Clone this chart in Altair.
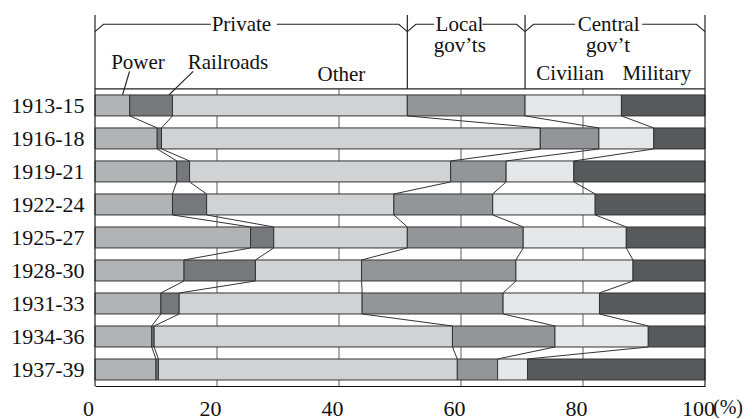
import json
import altair as alt
import pandas as pd

# ---------------- data ----------------
periods = ["1913-15", "1916-18", "1919-21", "1922-24", "1925-27",
           "1928-30", "1931-33", "1934-36", "1937-39"]
categories = ["Power", "Railroads", "Other", "Local gov'ts", "Civilian", "Military"]
power     = [5.7, 10.2, 13.4, 12.7, 25.5, 14.6, 10.8, 9.3, 10.0]
railroads = [7.0, 0.7, 2.1, 5.6, 3.8, 11.7, 3.0, 0.4, 0.4]
other     = [38.5, 62.1, 42.8, 30.7, 21.9, 17.4, 30.0, 48.9, 49.0]
local_gov = [19.3, 9.6, 9.1, 16.2, 19.0, 25.3, 23.1, 16.8, 6.6]
civilian  = [15.8, 9.0, 11.1, 16.8, 16.9, 19.2, 15.8, 15.3, 4.9]
military  = [13.7, 8.4, 21.5, 18.0, 12.9, 11.8, 17.3, 9.3, 29.1]
colors = ["#b2b3b5", "#77787b", "#d1d2d4", "#939598", "#e6e7e8", "#58595b"]
x_ticks = [0, 20, 40, 60, 80, 100]
grid_vals = [20, 40, 60, 80]

series = [power, railroads, other, local_gov, civilian, military]

# ---------------- derived tables ----------------
HALF = 0.318          # half bar height in row units
Y_TOP = -2.74         # top of header area in row units
Y_BOT = 8.5

cum = []
for i in range(len(periods)):
    c, row = 0.0, []
    for s in series:
        c += s[i]
        row.append(round(c, 2))
    cum.append(row)

bars = []
for i, p in enumerate(periods):
    start = 0.0
    for k, cat in enumerate(categories):
        end = cum[i][k] if k < len(categories) - 1 else 100.0
        bars.append(dict(period=p, cat=cat, x=start, x2=end, y=i - HALF, y2=i + HALF))
        start = end
bars = pd.DataFrame(bars)

conn = []
for k in range(len(categories) - 1):
    for i in range(len(periods) - 1):
        conn.append(dict(x=cum[i][k], x2=cum[i + 1][k], y=i + HALF, y2=i + 1 - HALF))
conn = pd.DataFrame(conn)

priv_end = cum[0][2]
local_end = cum[0][3]
frame = pd.DataFrame([
    dict(x=0, x2=0, y=Y_TOP, y2=Y_BOT),
    dict(x=100, x2=100, y=Y_TOP, y2=Y_BOT),
    dict(x=0, x2=100, y=-0.5, y2=-0.5),
    dict(x=priv_end, x2=priv_end, y=Y_TOP, y2=-0.5),
    dict(x=local_end, x2=local_end, y=Y_TOP, y2=-0.5),
    # leader lines
    dict(x=5.66, x2=4.51, y=-1.03, y2=-HALF),
    dict(x=16.1, x2=12.13, y=-1.03, y2=-HALF),
])
grid = pd.DataFrame([dict(x=g, x2=g, y=-0.5, y2=Y_BOT) for g in grid_vals])

YD, YH, D = -2.236, -2.46, 1.4
br_pts = []
def seg(name, pts):
    for j, (xx, yy) in enumerate(pts):
        br_pts.append(dict(seg=name, o=j, x=xx, y=yy))
seg("a", [(0, YD), (D, YH), (19.0, YH)])
seg("b", [(29.8, YH), (priv_end - D, YH), (priv_end, YD)])
seg("c", [(priv_end, YD), (priv_end + D, YH), (55.6, YH)])
seg("d", [(63.5, YH), (local_end - D, YH), (local_end, YD)])
seg("e", [(local_end, YD), (local_end + D, YH), (78.7, YH)])
seg("f", [(89.7, YH), (100 - D, YH), (100, YD)])
brackets = pd.DataFrame(br_pts)

labels = pd.DataFrame([
    dict(t="Private", x=24.0, y=-2.258),
    dict(t="Local", x=59.75, y=-2.258),
    dict(t="gov\u2019ts", x=59.8, y=-1.621),
    dict(t="Central", x=84.2, y=-2.258),
    dict(t="gov\u2019t", x=84.1, y=-1.621),
    dict(t="Power", x=7.05, y=-1.106),
    dict(t="Railroads", x=21.8, y=-1.106),
    dict(t="Other", x=40.4, y=-0.742),
    dict(t="Civilian", x=77.9, y=-0.773),
    dict(t="Military", x=92.1, y=-0.773),
])
pct = pd.DataFrame([dict(t="(%)", x=100, y=9.36)])

FONT = "Liberation Serif"
xs = alt.Scale(domain=[0, 100], nice=False, zero=False)
ys = alt.Scale(domain=[Y_TOP, Y_BOT], reverse=True, nice=False, zero=False)
label_expr = json.dumps(periods) + "[datum.value]"

x_axis = alt.Axis(
    values=x_ticks, grid=False, ticks=False, domain=True, domainColor="#111111",
    domainWidth=1.2, labelFontSize=22, labelFont=FONT, labelColor="#111111",
    labelOffset=-7, labelPadding=12, labelFlush=False, labelOverlap=False, title=None)
y_axis = alt.Axis(
    values=list(range(len(periods))), labelExpr=label_expr, grid=False,
    ticks=False, domain=False, labelFontSize=22, labelFont=FONT,
    labelColor="#111111", labelPadding=11, labelFlush=False,
    labelOverlap=False, title=None)

X = alt.X("x:Q", scale=xs, axis=x_axis)
Y = alt.Y("y:Q", scale=ys, axis=y_axis)

bar_layer = alt.Chart(bars).mark_bar(stroke="#333333", strokeWidth=1).encode(
    x=X, x2="x2:Q", y=Y, y2="y2:Q",
    color=alt.Color("cat:N", scale=alt.Scale(domain=categories, range=colors), legend=None),
)

def rules(df, color, width):
    return alt.Chart(df).mark_rule(color=color, strokeWidth=width).encode(
        x=X, x2="x2:Q", y=Y, y2="y2:Q")

grid_layer = rules(grid, "#777777", 1.2)
conn_layer = rules(conn, "#333333", 1)
frame_layer = rules(frame, "#222222", 1.2)

br_layer = alt.Chart(brackets).mark_line(color="#222222", strokeWidth=1.1).encode(
    x=X, y=Y, detail="seg:N", order="o:Q")

text_layer = alt.Chart(labels).mark_text(
    font=FONT, fontSize=21, color="#111111", align="center", baseline="alphabetic"
).encode(x=X, y=Y, text="t:N")

pct_layer = alt.Chart(pct).mark_text(
    font=FONT, fontSize=20, color="#111111", align="left", baseline="alphabetic", dx=8
).encode(x=X, y=Y, text="t:N")

chart = alt.layer(
    grid_layer, bar_layer, conn_layer, frame_layer, br_layer, text_layer, pct_layer
).properties(
    width=610, height=371,
    autosize=alt.AutoSizeParams(type="none"),
    padding={"left": 87, "top": 7, "right": 42, "bottom": 36},
    background="white",
).configure_view(strokeWidth=0)

chart.save("out.html", embed_options={"renderer": "svg", "actions": False})
